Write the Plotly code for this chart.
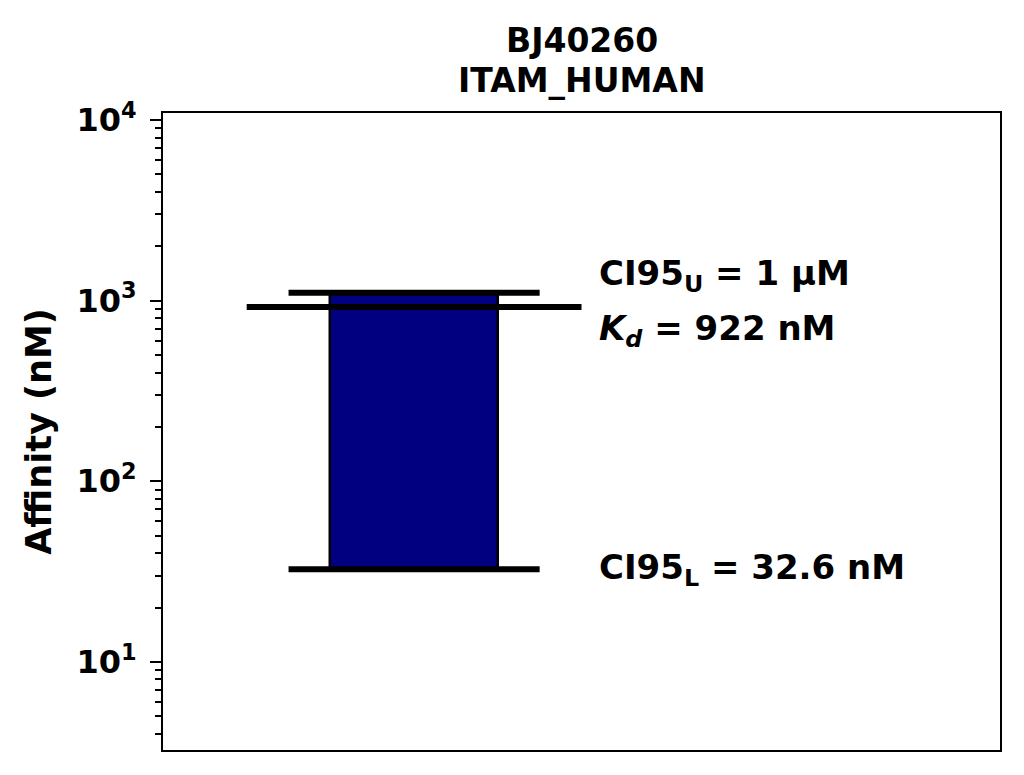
"""Affinity bar with 95% CI - BJ40260 / ITAM_HUMAN"""

import math

import plotly.graph_objects as go

# data
compound = "BJ40260"
target = "ITAM_HUMAN"
kd_nm = 922.0
ci_lower_nm = 32.6
ci_upper_nm = 1107.0
ci_lower_label = "32.6 nM"
ci_upper_label = "1 µM"
kd_label = "922 nM"

y_tickvals = [10, 100, 1000, 10000]
y_ticktext = ["10<sup>1</sup>", "10<sup>2</sup>", "10<sup>3</sup>", "10<sup>4</sup>"]
y_minor = [m * d for d in (1, 10, 100, 1000) for m in range(2, 10)]

FONT = "DejaVu Sans"
NAVY = "#000080"

fig = go.Figure()

# bar from CI lower to CI upper
fig.add_trace(go.Bar(
    x=[0], y=[ci_upper_nm - ci_lower_nm], base=[ci_lower_nm],
    width=0.8,
    marker=dict(color=NAVY, line=dict(color="black", width=2.5)),
    showlegend=False,
))

# CI caps and Kd line
fig.add_trace(go.Scatter(
    x=[-0.6, 0.6], y=[ci_upper_nm, ci_upper_nm],
    mode="lines", line=dict(color="black", width=6), showlegend=False,
))
fig.add_trace(go.Scatter(
    x=[-0.8, 0.8], y=[kd_nm, kd_nm],
    mode="lines", line=dict(color="black", width=6), showlegend=False,
))
fig.add_trace(go.Scatter(
    x=[-0.6, 0.6], y=[ci_lower_nm, ci_lower_nm],
    mode="lines", line=dict(color="black", width=6), showlegend=False,
))

label_font = dict(family=FONT, size=34, color="black", weight="bold")
labels = [
    (ci_upper_nm, f"CI95<sub>U</sub> = {ci_upper_label}", 17),
    (kd_nm, f"<i>K<sub>d</sub></i> = {kd_label}", -23),
    (ci_lower_nm, f"CI95<sub>L</sub> = {ci_lower_label}", 0),
]
for yv, txt, shift in labels:
    fig.add_annotation(
        x=0.875, y=math.log10(yv), text=txt,
        xanchor="left", yanchor="middle", yshift=shift,
        showarrow=False, font=label_font,
    )

# two-line title
title_font = dict(family=FONT, size=33, color="black", weight="bold")
for txt, shift in [(compound, 73), (target, 33)]:
    fig.add_annotation(
        x=0.5, y=1, xref="paper", yref="paper", text=txt,
        xanchor="center", yanchor="middle", yshift=shift,
        showarrow=False, font=title_font,
    )

fig.update_layout(
    width=1016, height=767,
    margin=dict(l=155, r=24, t=105, b=25),
    paper_bgcolor="white", plot_bgcolor="white",
    bargap=0,
)

fig.update_xaxes(
    range=[-1.2, 2.8], showticklabels=False, ticks="",
    showgrid=False, zeroline=False,
    showline=True, linecolor="black", linewidth=2, mirror=True,
)
fig.update_yaxes(
    type="log", range=[0.512, 4.039],
    tickvals=y_tickvals, ticktext=y_ticktext,
    ticks="outside", ticklen=11, tickwidth=2, tickcolor="black",
    ticklabelstandoff=7,
    minor=dict(tickvals=y_minor, ticks="outside", ticklen=6,
               tickwidth=1.5, tickcolor="black", showgrid=False),
    tickfont=dict(family=FONT, size=32, color="black", weight="bold"),
    title=dict(text="Affinity (nM)", standoff=14,
               font=dict(family=FONT, size=35, color="black", weight="bold")),
    showgrid=False, zeroline=False,
    showline=True, linecolor="black", linewidth=2, mirror=True,
)

fig.write_html("out.html")
